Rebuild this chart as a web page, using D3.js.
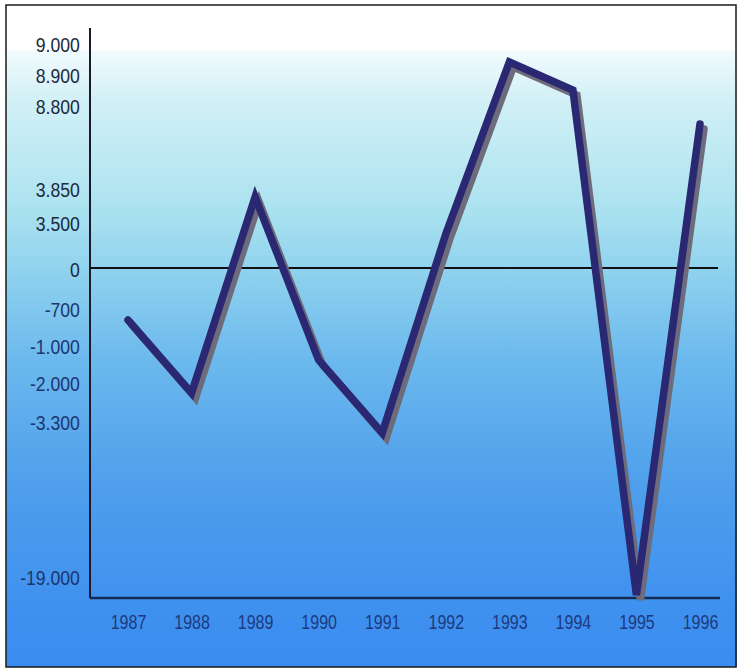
<!DOCTYPE html>
<html>
<head>
<meta charset="utf-8">
<script src="https://cdn.jsdelivr.net/npm/d3@7"></script>
<style>
  html, body { margin: 0; padding: 0; background: #ffffff; }
  svg { display: block; }
  text { font-family: "Liberation Sans Narrow", "Liberation Sans", "DejaVu Sans Condensed", sans-serif; }
</style>
</head>
<body>
<svg id="chart" width="738" height="669"></svg>
<script>
// ---- data ----
const years = ["1987","1988","1989","1990","1991","1992","1993","1994","1995","1996"];
const values = [-700, -2000, 3850, -1000, -3300, 3500, 9000, 8900, -19000, 8800];
const tickValues = [9000, 8900, 8800, 3850, 3500, 0, -700, -1000, -2000, -3300, -19000];
const tickLabels = ["9.000","8.900","8.800","3.850","3.500","0","-700","-1.000","-2.000","-3.300","-19.000"];

// ---- layout ----
const W = 738, H = 669;
const axisX = 90, axisTop = 28, axisBottom = 598, axisRight = 720;
// non-linear (piecewise) value axis of the original
const yDomain = [-19000, -3300, -2000, -1000, -700, 0, 3500, 3850, 8800, 8900, 9000];
const yRange  = [595, 433, 393, 360, 320, 268, 234, 197, 124, 90, 62];
const yLabelRange = [578, 423, 384, 347, 310, 270, 224, 190, 107, 76, 45];

const svg = d3.select("#chart");

// background gradient
const defs = svg.append("defs");
const grad = defs.append("linearGradient").attr("id", "bg").attr("x1", 0).attr("y1", 0).attr("x2", 0).attr("y2", 1);
[[0, "#f2fbfd"], [0.08, "#d2f0f6"], [0.25, "#ade3f0"], [0.36, "#8fd2ee"], [0.5, "#6cb9ed"], [0.7, "#4f9fec"], [0.9, "#3f91ef"], [1, "#3b8cf0"]]
  .forEach(([o, c]) => grad.append("stop").attr("offset", o).attr("stop-color", c));

svg.append("rect").attr("x", 6).attr("y", 50).attr("width", 731).attr("height", 617).attr("fill", "url(#bg)");
svg.append("rect").attr("x", 6).attr("y", 5).attr("width", 730).attr("height", 662)
  .attr("fill", "none").attr("stroke", "#1a1a1a").attr("stroke-width", 1.5);

const x = d3.scalePoint().domain(years).range([128, 700]);
const y = d3.scaleLinear().domain(yDomain).range(yRange);
const yLab = y.copy().range(yLabelRange);

// y axis labels (condensed look)
const yAxis = d3.axisLeft(yLab).tickValues(tickValues)
  .tickFormat((d) => tickLabels[tickValues.indexOf(d)]).tickSize(0).tickPadding(12);
const gy = svg.append("g").attr("transform", `translate(${axisX},0)`).call(yAxis);
gy.select(".domain").remove();
gy.selectAll("text").attr("font-size", 21).attr("transform", "scale(0.84,1)")
  .attr("fill", (d) => d < -500 ? "#1c3670" : "#1e2a3c")
  .attr("font-family", "'Liberation Sans Narrow', 'Liberation Sans', sans-serif");

// x axis labels (condensed look)
const xAxis = d3.axisBottom(x).tickSize(0).tickPadding(17);
const gx = svg.append("g").attr("transform", `translate(0,${axisBottom})`).call(xAxis);
gx.select(".domain").remove();
gx.selectAll("text").attr("font-size", 20).attr("transform", "scale(0.8,1)")
  .attr("fill", "#1c3a80")
  .attr("font-family", "'Liberation Sans Narrow', 'Liberation Sans', sans-serif");

// axis lines
svg.append("line").attr("x1", axisX).attr("x2", axisX).attr("y1", axisTop).attr("y2", axisBottom)
  .attr("stroke", "#1a1a2a").attr("stroke-width", 2);
svg.append("line").attr("x1", axisX).attr("x2", 718).attr("y1", y(0)).attr("y2", y(0))
  .attr("stroke", "#111111").attr("stroke-width", 2);
svg.append("line").attr("x1", axisX).attr("x2", axisRight).attr("y1", axisBottom).attr("y2", axisBottom)
  .attr("stroke", "#142a55").attr("stroke-width", 2.5);

// line + shadow
const pts = years.map((yr, i) => [x(yr), y(values[i])]);
const line = d3.line();
svg.append("path").attr("d", line(pts)).attr("transform", "translate(4,5)")
  .attr("fill", "none").attr("stroke", "#6e6b7c").attr("stroke-width", 7.5)
  .attr("stroke-linejoin", "miter").attr("stroke-linecap", "round");
svg.append("path").attr("d", line(pts))
  .attr("fill", "none").attr("stroke", "#2a2872").attr("stroke-width", 7.5)
  .attr("stroke-linejoin", "miter").attr("stroke-linecap", "round");
</script>
</body>
</html>
